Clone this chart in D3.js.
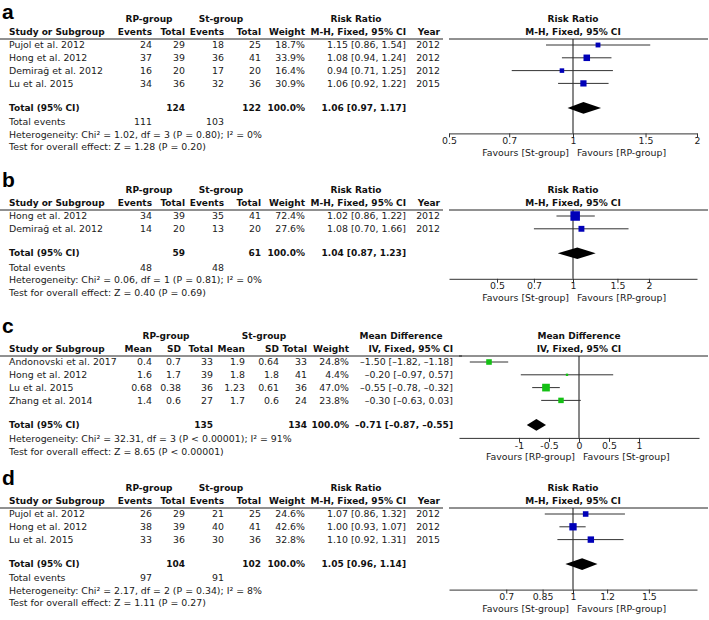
<!DOCTYPE html>
<html>
<head>
<meta charset="utf-8">
<script src="https://cdn.jsdelivr.net/npm/d3@7"></script>
<style>
body { margin: 0; background: #fff; }
text { font-family: "DejaVu Sans", sans-serif; font-size: 9.4px; fill: #1a1a1a; }
.b { font-weight: bold; font-size: 9px; fill: #111; }
.letter { font-family: "Liberation Sans", Arial, sans-serif; font-weight: bold; font-size: 21px; fill: #000; }
</style>
</head>
<body>
<svg id="chart" width="709" height="620"></svg>
<script>
// ---- panel a : risk ratio ----
var studiesA = ["Pujol et al. 2012", "Hong et al. 2012", "Demirağ et al. 2012", "Lu et al. 2015"];
var rpEventsA = [24, 37, 16, 34];
var rpTotalA = [29, 39, 20, 36];
var stEventsA = [18, 36, 17, 32];
var stTotalA = [25, 41, 20, 36];
var weightA = [18.7, 33.9, 16.4, 30.9];
var rrA = [1.15, 1.08, 0.94, 1.06];
var lowA = [0.86, 0.94, 0.71, 0.92];
var highA = [1.54, 1.24, 1.25, 1.22];
var yearA = [2012, 2012, 2012, 2015];
var totalsA = [124, 122];
var eventsA = [111, 103];
var pooledA = [1.06, 0.97, 1.17];
var ticksA = [0.5, 0.7, 1, 1.5, 2];
var hetA = "Heterogeneity: Chi² = 1.02, df = 3 (P = 0.80); I² = 0%";
var testA = "Test for overall effect: Z = 1.28 (P = 0.20)";

// ---- panel b : risk ratio ----
var studiesB = ["Hong et al. 2012", "Demirağ et al. 2012"];
var rpEventsB = [34, 14];
var rpTotalB = [39, 20];
var stEventsB = [35, 13];
var stTotalB = [41, 20];
var weightB = [72.4, 27.6];
var rrB = [1.02, 1.08];
var lowB = [0.86, 0.70];
var highB = [1.22, 1.66];
var yearB = [2012, 2012];
var totalsB = [59, 61];
var eventsB = [48, 48];
var pooledB = [1.04, 0.87, 1.23];
var ticksB = [0.5, 0.7, 1, 1.5, 2];
var hetB = "Heterogeneity: Chi² = 0.06, df = 1 (P = 0.81); I² = 0%";
var testB = "Test for overall effect: Z = 0.40 (P = 0.69)";

// ---- panel c : mean difference ----
var studiesC = ["Andonovski et al. 2017", "Hong et al. 2012", "Lu et al. 2015", "Zhang et al. 2014"];
var rpMeanC = [0.4, 1.6, 0.68, 1.4];
var rpSDC = [0.7, 1.7, 0.38, 0.6];
var rpTotalC = [33, 39, 36, 27];
var stMeanC = [1.9, 1.8, 1.23, 1.7];
var stSDC = [0.64, 1.8, 0.61, 0.6];
var stTotalC = [33, 41, 36, 24];
var weightC = [24.8, 4.4, 47.0, 23.8];
var mdC = [-1.50, -0.20, -0.55, -0.30];
var lowC = [-1.82, -0.97, -0.78, -0.63];
var highC = [-1.18, 0.57, -0.32, 0.03];
var totalsC = [135, 134];
var pooledC = [-0.71, -0.87, -0.55];
var ticksC = [-1, -0.5, 0, 0.5, 1];
var hetC = "Heterogeneity: Chi² = 32.31, df = 3 (P < 0.00001); I² = 91%";
var testC = "Test for overall effect: Z = 8.65 (P < 0.00001)";

// ---- panel d : risk ratio ----
var studiesD = ["Pujol et al. 2012", "Hong et al. 2012", "Lu et al. 2015"];
var rpEventsD = [26, 38, 33];
var rpTotalD = [29, 39, 36];
var stEventsD = [21, 40, 30];
var stTotalD = [25, 41, 36];
var weightD = [24.6, 42.6, 32.8];
var rrD = [1.07, 1.00, 1.10];
var lowD = [0.86, 0.93, 0.92];
var highD = [1.32, 1.07, 1.31];
var yearD = [2012, 2012, 2015];
var totalsD = [104, 102];
var eventsD = [97, 91];
var pooledD = [1.05, 0.96, 1.14];
var ticksD = [0.7, 0.85, 1, 1.2, 1.5];
var hetD = "Heterogeneity: Chi² = 2.17, df = 2 (P = 0.34); I² = 8%";
var testD = "Test for overall effect: Z = 1.11 (P = 0.27)";

var svg = d3.select("#chart");
// RevMan prints negatives with a plain dash
var f2 = function(v) { return d3.format(".2f")(v).replace("−", "–"); };
var fw = function(w) { return d3.format(".1f")(w) + "%"; };
var ci = function(e, lo, hi) { return f2(e) + " [" + f2(lo) + ", " + f2(hi) + "]"; };
var fTick = function(v) { return d3.format("~g")(v).replace("−", "-"); };
var boxSize = d3.scaleSqrt().domain([0, 100]).range([0, 11.2]);

// column layouts (right edges of each column)
var rrHead = ["Events", "Total", "Events", "Total", "Weight", "M-H, Fixed, 95% CI", "Year"];
var rrX = [152, 185, 224, 261, 305, 406, 440];
var rrGroups = [["RP-group", 149], ["St-group", 221], ["Risk Ratio", 356]];
var mdHead = ["Mean", "SD", "Total", "Mean", "SD", "Total", "Weight", "IV, Fixed, 95% CI"];
var mdX = [152, 181, 213, 245, 279, 307, 349, 453];
var mdGroups = [["RP-group", 166], ["St-group", 264], ["Mean Difference", 401]];

function drawPanel(p) {
  var g = svg.append("g").attr("transform", "translate(0," + p.top + ")");
  var n = p.studies.length;
  var rowY = d3.scaleLinear().domain([0, 1]).range([45, 57.8]);
  var totalY = rowY(n - 1) + 24.5;
  var y = totalY + 14;
  var eventsY = null;
  if (p.events) { eventsY = y; y += 12.5; }
  var hetY = y, testY = y + 12.5;
  var axisY = hetY - 1;

  g.append("text").attr("class", "letter").attr("x", 2).attr("y", p.top == 0 ? 19 : 16).text(p.letter);

  // group headers and column headers
  p.groups.forEach(function(gr) {
    g.append("text").attr("class", "b").attr("x", gr[1]).attr("y", 19).attr("dy", ".35em")
      .attr("text-anchor", "middle").text(gr[0]);
  });
  g.append("text").attr("class", "b").attr("x", 9).attr("y", 32).attr("dy", ".35em").text("Study or Subgroup");
  p.head.forEach(function(h, j) {
    g.append("text").attr("class", "b").attr("x", p.colX[j]).attr("y", 32).attr("dy", ".35em")
      .attr("text-anchor", "end").text(h);
  });
  g.append("line").attr("x1", 0).attr("x2", p.tableRight).attr("y1", 39).attr("y2", 39)
    .attr("stroke", "#222");

  // study rows
  p.studies.forEach(function(s, i) {
    g.append("text").attr("x", 9).attr("y", rowY(i)).attr("dy", ".35em").text(s);
    p.cols.forEach(function(col, j) {
      g.append("text").attr("x", p.colX[j]).attr("y", rowY(i)).attr("dy", ".35em")
        .attr("text-anchor", "end").text(col[i]);
    });
  });

  // totals
  g.append("text").attr("class", "b").attr("x", 9).attr("y", totalY).attr("dy", ".35em").text("Total (95% CI)");
  p.totalRow.forEach(function(v, j) {
    if (v === "") return;
    g.append("text").attr("class", "b").attr("x", p.colX[j]).attr("y", totalY).attr("dy", ".35em")
      .attr("text-anchor", "end").text(v);
  });
  if (p.events) {
    g.append("text").attr("x", 9).attr("y", eventsY).attr("dy", ".35em").text("Total events");
    g.append("text").attr("x", p.colX[0]).attr("y", eventsY).attr("dy", ".35em").attr("text-anchor", "end").text(p.events[0]);
    g.append("text").attr("x", p.colX[2]).attr("y", eventsY).attr("dy", ".35em").attr("text-anchor", "end").text(p.events[1]);
  }
  g.append("text").attr("x", 9).attr("y", hetY).attr("dy", ".35em").text(p.het);
  g.append("text").attr("x", 9).attr("y", testY).attr("dy", ".35em").text(p.test);

  // forest plot
  var x = p.scale;
  var x0 = x(p.ref);
  g.append("text").attr("class", "b").attr("x", x0).attr("y", 19).attr("dy", ".35em")
    .attr("text-anchor", "middle").text(p.groups[2][0]);
  g.append("text").attr("class", "b").attr("x", x0).attr("y", 32).attr("dy", ".35em")
    .attr("text-anchor", "middle").text(p.head[p.head.length - (p.type == "rr" ? 2 : 1)]);
  g.append("line").attr("x1", x.range()[0]).attr("x2", 708).attr("y1", 39).attr("y2", 39)
    .attr("stroke", "#222");
  g.append("line").attr("x1", x0).attr("x2", x0).attr("y1", 39).attr("y2", axisY)
    .attr("stroke", "#111");

  p.est.forEach(function(e, i) {
    g.append("line").attr("x1", x(p.lo[i])).attr("x2", x(p.hi[i]))
      .attr("y1", rowY(i)).attr("y2", rowY(i)).attr("stroke", "#333");
    var s = boxSize(p.weight[i]);
    g.append("rect").attr("x", x(e) - s / 2).attr("y", rowY(i) - s / 2)
      .attr("width", s).attr("height", s).attr("fill", p.color);
  });
  var dm = [[x(p.pooled[1]), totalY], [x(p.pooled[0]), totalY - 5.8],
            [x(p.pooled[2]), totalY], [x(p.pooled[0]), totalY + 5.8]];
  g.append("path").attr("d", d3.line()(dm) + "Z").attr("fill", "#000");

  var axis = g.append("g").attr("transform", "translate(0," + axisY + ")")
    .call(d3.axisBottom(x).tickValues(p.ticks).tickFormat(fTick)
      .tickSize(4).tickSizeOuter(0).tickPadding(0));
  axis.select(".domain").attr("stroke", "#333");
  axis.selectAll(".tick line").attr("stroke", "#333");
  axis.selectAll("text").style("font-family", "DejaVu Sans").style("font-size", "9.4px").attr("fill", "#1a1a1a");

  g.append("text").attr("x", x0 - 4).attr("y", axisY + 19).attr("dy", ".35em")
    .attr("text-anchor", "end").text(p.favours[0]);
  g.append("text").attr("x", x0 + 4).attr("y", axisY + 19).attr("dy", ".35em")
    .attr("text-anchor", "start").text(p.favours[1]);
}

function rrPanel(top, letter, studies, rpE, rpT, stE, stT, w, est, lo, hi, yr, totals, events, pooled, ticks, dom, het, test) {
  return {
    top: top, letter: letter, type: "rr", studies: studies,
    head: rrHead, colX: rrX, groups: rrGroups, tableRight: 443,
    cols: [rpE, rpT, stE, stT, w.map(fw), est.map(function(e, i) { return ci(e, lo[i], hi[i]); }), yr],
    totalRow: ["", totals[0], "", totals[1], "100.0%", ci(pooled[0], pooled[1], pooled[2]), ""],
    events: events, weight: w, est: est, lo: lo, hi: hi, pooled: pooled,
    scale: d3.scaleLog().domain(dom).range([449, 697]), ref: 1, ticks: ticks,
    color: "#0000b8", het: het, test: test,
    favours: ["Favours [St-group]", "Favours [RP-group]"]
  };
}

drawPanel(rrPanel(0, "a", studiesA, rpEventsA, rpTotalA, stEventsA, stTotalA, weightA, rrA, lowA, highA, yearA,
  totalsA, eventsA, pooledA, ticksA, [0.5, 2], hetA, testA));
drawPanel(rrPanel(171, "b", studiesB, rpEventsB, rpTotalB, stEventsB, stTotalB, weightB, rrB, lowB, highB, yearB,
  totalsB, eventsB, pooledB, ticksB, [1 / 3.1, 3.1], hetB, testB));

drawPanel({
  top: 317, letter: "c", type: "md", studies: studiesC,
  head: mdHead, colX: mdX, groups: mdGroups, tableRight: 462,
  cols: [rpMeanC, rpSDC, rpTotalC, stMeanC, stSDC, stTotalC, weightC.map(fw),
         mdC.map(function(e, i) { return ci(e, lowC[i], highC[i]); })],
  totalRow: ["", "", totalsC[0], "", "", totalsC[1], "100.0%", ci(pooledC[0], pooledC[1], pooledC[2])],
  events: null, weight: weightC, est: mdC, lo: lowC, hi: highC, pooled: pooledC,
  scale: d3.scaleLinear().domain([-2, 2]).range([459, 699]), ref: 0, ticks: ticksC,
  color: "#14c014", het: hetC, test: testC,
  favours: ["Favours [RP-group]", "Favours [St-group]"]
});

drawPanel(rrPanel(469, "d", studiesD, rpEventsD, rpTotalD, stEventsD, stTotalD, weightD, rrD, lowD, highD, yearD,
  totalsD, eventsD, pooledD, ticksD, [1 / 1.94, 1.94], hetD, testD));
</script>
</body>
</html>
